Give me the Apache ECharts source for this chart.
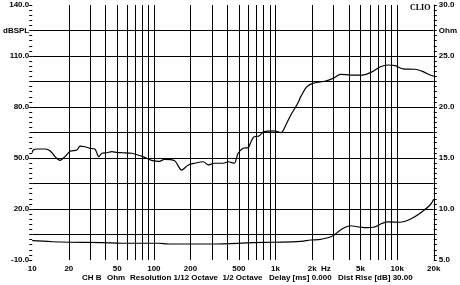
<!DOCTYPE html>
<html>
<head>
<meta charset="utf-8">
<script src="https://cdn.jsdelivr.net/npm/echarts@6/dist/echarts.min.js"></script>
<style>html,body{margin:0;padding:0;background:#fff}#c{width:460px;height:285px}</style>
</head>
<body>
<div id="c"></div>
<script>
// ---- data ----
var splFreq = [10, 10.2, 11, 12.8, 14, 15.4, 16.9, 18.6, 20.5, 23.3, 24.7, 27.1, 29.8, 32.7, 35.3, 37.4, 41, 45.1, 49.6, 54.4, 65.7, 75, 83.9, 95.8, 111, 122, 148, 169, 192, 215, 255, 280, 314, 372, 408, 457, 493, 541, 595, 629, 666, 732, 804, 970, 1107, 1216, 1336, 1525, 1614, 1806, 2022, 2583, 3003, 3425, 4135, 5184, 6258, 7275, 8456, 9650, 11215, 14060, 16350, 18650, 20000];
var splDb = [53.1, 54.7, 55.3, 55.3, 54.3, 50.8, 48.6, 50.8, 54, 54.7, 57, 56.6, 55.7, 55.3, 50.8, 52.8, 53.1, 53.7, 53.3, 53.1, 52.8, 51.6, 50.4, 48.6, 48.0, 49.2, 48.4, 42.9, 45.9, 46.9, 47.8, 45.9, 46.9, 46.9, 47.8, 46.9, 52.8, 55.7, 56.1, 59.6, 62.5, 62.9, 65.5, 65.9, 64.9, 69.4, 75.3, 82.2, 86.1, 91.8, 93.9, 95.3, 97, 99.2, 98.8, 98.8, 100.8, 103.7, 104.7, 104.3, 102.4, 102.2, 100.8, 98.8, 98.2];
var impFreq = [10, 14.6, 20.1, 37.4, 54.4, 109, 132, 296, 666, 970, 1614, 1948, 2351, 2947, 3425, 4135, 4719, 5694, 6375, 7555, 8456, 10600, 12800, 16040, 18650, 20000];
var impOhm = [6.89, 6.79, 6.74, 6.70, 6.64, 6.64, 6.57, 6.57, 6.70, 6.74, 6.83, 6.96, 7.03, 7.35, 7.94, 8.36, 8.26, 8.17, 8.21, 8.60, 8.73, 8.70, 8.99, 9.74, 10.39, 10.95];
var gridFreqs = [20, 30, 40, 50, 60, 70, 80, 90, 100, 200, 300, 400, 500, 600, 700, 800, 900, 1000, 2000, 3000, 4000, 5000, 6000, 7000, 8000, 9000, 10000];
var xTickValues = [10, 20, 50, 100, 200, 500, 1000, 2000, 5000, 10000, 20000];
var xTickLabels = ['10', '20', '50', '100', '200', '500', '1k', '2k', '5k', '10k', '20k'];
var leftLabels = {140: '140.0', 125: 'dBSPL', 110: '110.0', 80: '80.0', 50: '50.0', 20: '20.0', '-10': '-10.0'};
var rightLabels = {30: '30.0', 27.5: 'Ohm', 25: '25.0', 20: '20.0', 15: '15.0', 10: '10.0', 5: '5.0'};
var footer = [
  ['CH B', 82], ['Ohm', 107], ['Resolution 1/12 Octave', 130], ['1/2 Octave', 222.5], ['Delay [ms] 0.000', 269], ['Dist Rise [dB] 30.00', 338]
];

function pairs(a, b) { return a.map(function (v, i) { return [v, b[i]]; }); }

var chart = echarts.init(document.getElementById('c'), null, {renderer: 'canvas'});
var lab = {color: '#000', fontFamily: 'Liberation Sans, Arial, sans-serif', fontWeight: 'bold', fontSize: 8};

var graphics = footer.map(function (f) {
  return {type: 'text', left: f[1], top: 274, style: {text: f[0], fill: '#000', font: 'bold 8px "Liberation Sans", Arial, sans-serif'}};
});
graphics.push({type: 'text', left: 321, top: 265, style: {text: 'Hz', fill: '#000', font: 'bold 8px "Liberation Sans", Arial, sans-serif'}});
graphics.push({type: 'text', left: 410, top: 4, style: {text: 'CLIO', fill: '#000', font: 'bold 8px "Liberation Serif", "Times New Roman", serif'}});

chart.setOption({
  animation: false,
  backgroundColor: '#fff',
  grid: {left: 30, right: 24, top: 5, bottom: 25},
  xAxis: {
    type: 'log', logBase: 10, min: 10, max: 20000,
    axisLine: {show: false},
    axisTick: {show: false},
    splitLine: {show: false},
    minorTick: {show: false}, minorSplitLine: {show: false},
    axisLabel: Object.assign({}, lab, {
      margin: 5,
      customValues: xTickValues,
      formatter: function (v) { var i = xTickValues.indexOf(Math.round(v)); return i >= 0 ? xTickLabels[i] : ''; }
    })
  },
  yAxis: [{
    type: 'value', min: -10, max: 140, interval: 15, position: 'left',
    axisLine: {show: true, lineStyle: {color: 'rgba(0,0,0,0)', width: 1}},
    axisTick: {show: true, inside: false, length: 3, lineStyle: {color: '#000', width: 1}},
    minorTick: {show: true, splitNumber: 5, length: 3, lineStyle: {color: '#000', width: 1}},
    splitLine: {show: true, showMinLine: false, showMaxLine: false, lineStyle: {color: '#000', width: 1}},
    axisLabel: Object.assign({}, lab, {margin: 3, formatter: function (v) { return leftLabels[v] !== undefined ? leftLabels[v] : ''; }})
  }, {
    type: 'value', min: 5, max: 30, interval: 2.5, position: 'right',
    axisLine: {show: true, lineStyle: {color: '#000', width: 1}},
    axisTick: {show: true, inside: false, length: 3, lineStyle: {color: '#000'}},
    minorTick: {show: true, splitNumber: 5, length: 3, lineStyle: {color: '#000'}},
    splitLine: {show: false},
    axisLabel: Object.assign({}, lab, {margin: 5, formatter: function (v) { return rightLabels[v] !== undefined ? rightLabels[v] : ''; }})
  }],
  graphic: graphics,
  series: [{
    type: 'line', yAxisIndex: 0, data: [], silent: true,
    markLine: {
      silent: true, symbol: ['none', 'none'], label: {show: false},
      lineStyle: {color: '#000', width: 1, type: 'solid'},
      data: gridFreqs.map(function (f) { return {xAxis: f}; })
    }
  }, {
    type: 'line', yAxisIndex: 0, data: pairs(splFreq, splDb), showSymbol: false, smooth: 0.3,
    lineStyle: {color: '#000', width: 1.2}
  }, {
    type: 'line', yAxisIndex: 1, data: pairs(impFreq, impOhm), showSymbol: false, smooth: 0.4,
    lineStyle: {color: '#000', width: 1.2}
  }]
});
</script>
</body>
</html>
